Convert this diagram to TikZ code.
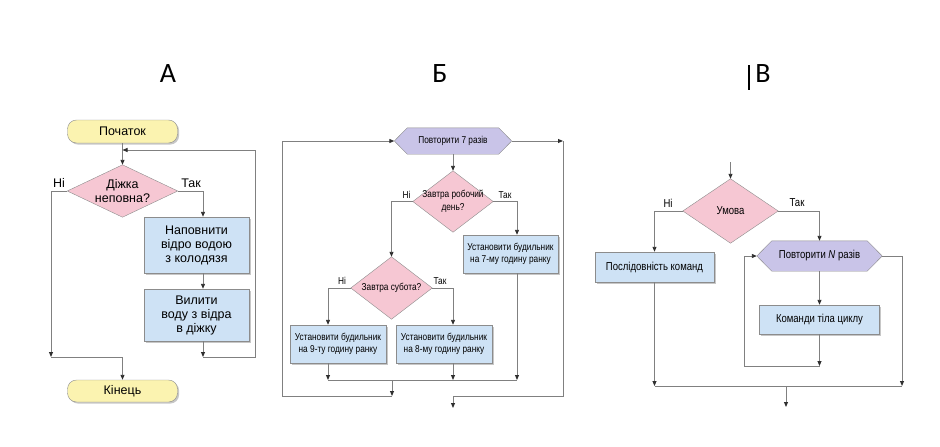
\documentclass[tikz,border=0pt]{standalone}
\usepackage{fontspec}
\setmainfont{Liberation Sans}
\newfontfamily\narrowsf{Liberation Sans}[FakeStretch=0.83]
\newfontfamily\headsf{Carlito}
\usetikzlibrary{arrows.meta,shadows,backgrounds}
\definecolor{termfill}{HTML}{FBF3B0}
\definecolor{diafill}{HTML}{F6C7D3}
\definecolor{boxfill}{HTML}{CEE2F5}
\definecolor{hexfill}{HTML}{C9C4E8}
\definecolor{edgec}{HTML}{8C8C8C}
\definecolor{linec}{HTML}{808080}
\definecolor{tipc}{HTML}{2F2F2F}
\tikzset{
  every node/.style={inner sep=0pt, align=center},
  shd/.style={drop shadow={shadow xshift=1.6pt, shadow yshift=-1.6pt, fill=black, opacity=0.22}},
  fA/.style={font=\fontsize{12.5}{14}\selectfont},
  fB/.style={font=\narrowsf\fontsize{10}{12.6}\selectfont},
  fC/.style={font=\narrowsf\fontsize{11.5}{13}\selectfont},
  hd/.style={font=\headsf\fontsize{28}{30}\selectfont},
  term/.style={draw=edgec, fill=termfill, rounded corners=9pt, shd, fA, minimum width=110pt, minimum height=23pt},
  pbox/.style={draw=edgec, fill=boxfill, shd},
  dshape/.style={draw=edgec, fill=diafill},
  hshape/.style={draw=edgec, fill=hexfill},
  ln/.style={draw=linec, line width=0.9pt},
  conn/.style={ln, -{Triangle[length=5pt,width=4pt,color=tipc]}},
}
\begin{document}
\begin{tikzpicture}[x=1pt, y=-1pt]
\useasboundingbox (0,0) rectangle (940,447);

% headers
\node[hd, anchor=base] (hA) at (168,82.5) {А};
\node[hd, anchor=base] (hB) at (440,82.5) {Б};
\node[hd, anchor=base] (hV) at (763,82.5) {В};
\coordinate (barT) at (749,65);
\coordinate (barB) at (749,90);
\draw[line width=1.4pt] (barT) -- (barB);

% ---------------- A ----------------
\node[term] (a0) at (122.5,131.5) {Початок};
\node[fA, minimum width=110pt, minimum height=52pt] (a1) at (122.5,191) {Діжка\\неповна?};
\node[pbox, fA, minimum width=105pt, minimum height=56pt] (a2) at (196.5,245) {Наповнити\\відро водою\\з колодязя};
\node[pbox, fA, minimum width=105pt, minimum height=52pt] (a3) at (196.5,315) {Вилити\\воду з відра\\в діжку};
\node[term, minimum height=22pt] (a4) at (122.5,391) {Кінець};
\node[fA] (aNi) at (59,183) {Ні};
\node[fA] (aTak) at (191,183) {Так};
\coordinate (aCol) at (203,0);
\coordinate (aLoopB) at (203,357);
\coordinate (aLoopR) at (255,150);
\coordinate (aNo) at (51,357);

% ---------------- Б ----------------
\node[fB, minimum width=117pt, minimum height=26pt] (b0) at (453,141) {Повторити 7 разів};
\node[fB, minimum width=80pt, minimum height=61pt] (b1) at (453,201.5) {Завтра робочий\\день?};
\node[pbox, fB, minimum width=95pt, minimum height=38pt] (b2) at (510.5,254) {Установити будильник\\на 7-му годину ранку};
\node[fB, minimum width=81pt, minimum height=62pt] (b3) at (391.5,288) {Завтра субота?};
\node[pbox, fB, minimum width=96pt, minimum height=38pt] (b4) at (338,344) {Установити будильник\\на 9-ту годину ранку};
\node[pbox, fB, minimum width=96pt, minimum height=38pt] (b5) at (444,344) {Установити будильник\\на 8-му годину ранку};
\node[fB] (b1Ni) at (406.5,195) {Ні};
\node[fB] (b1Tak) at (505,195) {Так};
\node[fB] (b3Ni) at (342,281) {Ні};
\node[fB] (b3Tak) at (440,281) {Так};
\coordinate (bJ) at (0,380);
\coordinate (bC9) at (328,0);
\coordinate (bC8) at (453,0);
\coordinate (bC7) at (517,0);
\coordinate (bM) at (392,380);
\coordinate (bMb) at (392,396);
\coordinate (bLL) at (282,396);
\coordinate (bRT) at (563,141);
\coordinate (bRB) at (563,396);
\coordinate (bOut) at (453,396);
\coordinate (bEnd) at (453,408);

% ---------------- В ----------------
\coordinate (cIn) at (730.5,162);
\node[fC, minimum width=95pt, minimum height=64pt] (c1) at (730.5,211) {Умова};
\node[pbox, fC, minimum width=119pt, minimum height=30pt] (c2) at (654.5,267) {Послідовність команд};
\node[fC, minimum width=125pt, minimum height=30pt] (c3) at (819.5,256) {Повторити \textit{N} разів};
\node[pbox, fC, minimum width=120pt, minimum height=29pt] (c4) at (819.5,319.5) {Команди тіла циклу};
\node[fC] (cNi) at (668,203) {Ні};
\node[fC] (cTak) at (797,203) {Так};
\coordinate (cJ) at (0,386);
\coordinate (cR) at (902,386);
\coordinate (cLB) at (819.5,366);
\coordinate (cLL) at (744,366);
\coordinate (cM) at (786,386);
\coordinate (cOut) at (786,407);

% shapes behind
\begin{pgfonlayer}{background}
  \foreach \n in {a1,b1,b3,c1}
    \filldraw[dshape] (\n.north) -- (\n.east) -- (\n.south) -- (\n.west) -- cycle;
  \filldraw[hshape] (b0.west) -- ([xshift=13pt]b0.north west) -- ([xshift=-13pt]b0.north east) -- (b0.east) -- ([xshift=-13pt]b0.south east) -- ([xshift=13pt]b0.south west) -- cycle;
  \filldraw[hshape] (c3.west) -- ([xshift=15pt]c3.north west) -- ([xshift=-15pt]c3.north east) -- (c3.east) -- ([xshift=-15pt]c3.south east) -- ([xshift=15pt]c3.south west) -- cycle;
\end{pgfonlayer}

% connectors A
\draw[conn] (a0) -- (a1);
\draw[conn] (a1.east) -| (a2.north -| aCol);
\draw[conn] (a2.south -| aCol) -- (a3.north -| aCol);
\draw[conn] (a3.south -| aCol) -- (aLoopB);
\draw[conn] (aLoopB) -| (aLoopR) -- (aLoopR -| a0);
\draw[conn] (a1.west) -| (aNo);
\draw[conn] (aNo) -| (a4);

% connectors Б
\draw[conn] (b0) -- (b1);
\draw[conn] (b1.west) -| (b3);
\draw[conn] (b1.east) -| (b2.north -| bC7);
\draw[conn] (b3.west) -| (b4.north -| bC9);
\draw[conn] (b3.east) -| (b5.north -| bC8);
\draw[conn] (b4.south -| bC9) -- (bJ -| bC9);
\draw[conn] (b5.south -| bC8) -- (bJ -| bC8);
\draw[conn] (b2.south -| bC7) -- (bJ -| bC7);
\draw[ln] (bJ -| bC9) -- (bJ -| bC7);
\draw[conn] (bM) -- (bMb);
\draw[conn] (bMb) -- (bLL) |- (b0.west);
\draw[conn] (b0.east) -- (bRT);
\draw[ln] (bRT) -- (bRB) -- (bOut);
\draw[conn] (bOut) -- (bEnd);

% connectors В
\draw[conn] (cIn) -- (c1);
\draw[conn] (c1.west) -| (c2);
\draw[conn] (c1.east) -| (c3);
\draw[conn] (c3) -- (c4);
\draw[conn] (c4) -- (cLB);
\draw[conn] (cLB) -- (cLL) |- (c3.west);
\draw[conn] (c3.east) -| (cR);
\draw[conn] (c2) -- (c2 |- cJ);
\draw[ln] (c2 |- cJ) -- (cR);
\draw[conn] (cM) -- (cOut);
\end{tikzpicture}
\end{document}
